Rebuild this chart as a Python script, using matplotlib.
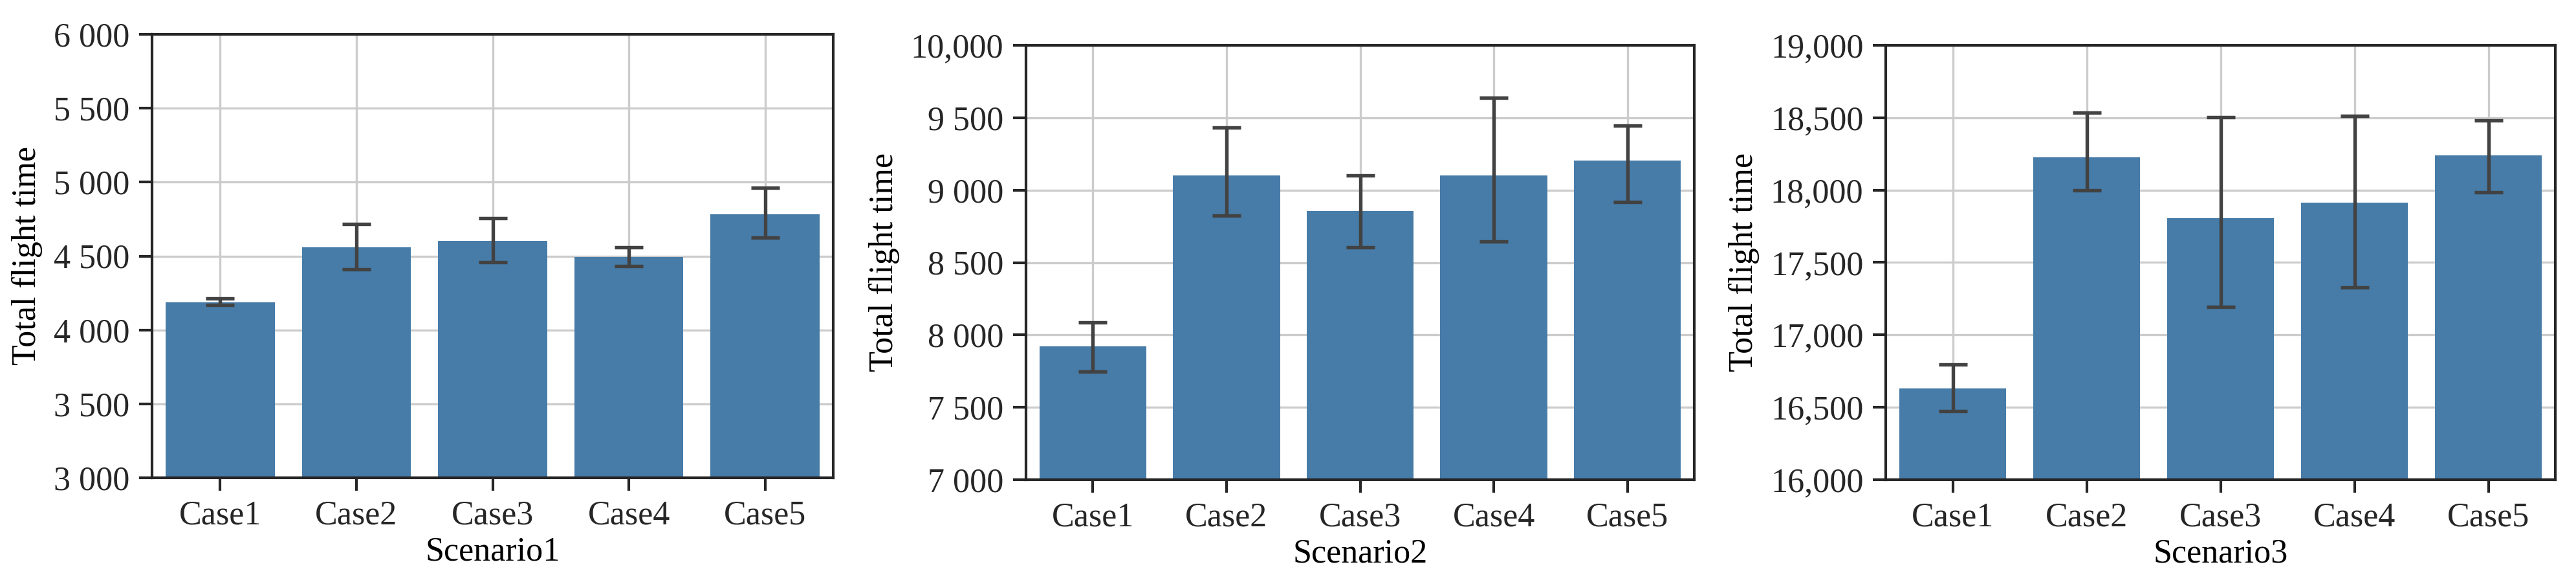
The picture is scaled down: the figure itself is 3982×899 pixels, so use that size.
import numpy as np
import matplotlib
matplotlib.use("Agg")
import matplotlib.pyplot as plt

plt.rcParams['font.family'] = ['Liberation Serif', 'DejaVu Serif']
plt.rcParams['font.size'] = 12.5

# datos
casos = ["Case1", "Case2", "Case3", "Case4", "Case5"]
escenarios = ["Scenario1", "Scenario2", "Scenario3"]

media_s1 = [4188, 4558, 4605, 4492, 4781]
bajo_s1 = [4171, 4412, 4457, 4430, 4626]
alto_s1 = [4214, 4716, 4756, 4560, 4960]

media_s2 = [7920, 9100, 8856, 9100, 9205]
bajo_s2 = [7746, 8823, 8603, 8644, 8918]
alto_s2 = [8085, 9431, 9100, 9638, 9444]

media_s3 = [16631, 18226, 17808, 17915, 18238]
bajo_s3 = [16472, 18000, 17195, 17326, 17985]
alto_s3 = [16797, 18533, 18505, 18513, 18482]

ticks_s1 = [3000, 3500, 4000, 4500, 5000, 5500, 6000]
etiq_s1 = ["3 000", "3 500", "4 000", "4 500", "5 000", "5 500", "6 000"]
ticks_s2 = [7000, 7500, 8000, 8500, 9000, 9500, 10000]
etiq_s2 = ["7 000", "7 500", "8 000", "8 500", "9 000", "9 500", "10,000"]
ticks_s3 = [16000, 16500, 17000, 17500, 18000, 18500, 19000]
etiq_s3 = ["16,000", "16,500", "17,000", "17,500", "18,000", "18,500", "19,000"]

W, H = 3982, 899
fig = plt.figure(figsize=(W / 300, H / 300), dpi=300)

# posiciones de los ejes en pixeles (izq, arriba, der, abajo)
cajas = [(235, 53, 1288, 738), (1586, 70, 2619, 741), (2915, 70, 3950, 741)]

datos = [
    (media_s1, bajo_s1, alto_s1, ticks_s1, etiq_s1),
    (media_s2, bajo_s2, alto_s2, ticks_s2, etiq_s2),
    (media_s3, bajo_s3, alto_s3, ticks_s3, etiq_s3),
]

color_barra = "#477ca8"
color_err = "#424242"

for i, (caja, (media, bajo, alto, ticks, etiq)) in enumerate(zip(cajas, datos)):
    x0, y0, x1, y1 = caja
    ax = fig.add_axes([x0 / W, 1 - y1 / H, (x1 - x0) / W, (y1 - y0) / H])
    ax.set_axisbelow(True)
    ax.grid(True, color="#cccccc", linewidth=0.8)

    x = np.arange(len(casos))
    media = np.array(media)
    err = [media - np.array(bajo), np.array(alto) - media]
    ax.bar(x, media, width=0.8, color=color_barra, zorder=2)
    ax.errorbar(x, media, yerr=err, fmt="none", ecolor=color_err,
                elinewidth=1.3, capsize=5.3, capthick=1.3, zorder=3)

    ax.set_xlim(-0.5, len(casos) - 0.5)
    ax.set_ylim(ticks[0], ticks[-1])
    ax.set_xticks(x)
    ax.set_xticklabels(casos)
    ax.set_yticks(ticks)
    ax.set_yticklabels(etiq)
    ax.set_xlabel(escenarios[i], labelpad=2)
    ax.set_ylabel("Total flight time")

    for s in ax.spines.values():
        s.set_color("#262626")
        s.set_linewidth(1.0)
    ax.tick_params(axis="both", direction="out", length=4.8, width=1.0,
                   color="#262626", labelcolor="#262626", labelsize=12.5)

fig.savefig("out.png", dpi=300)
